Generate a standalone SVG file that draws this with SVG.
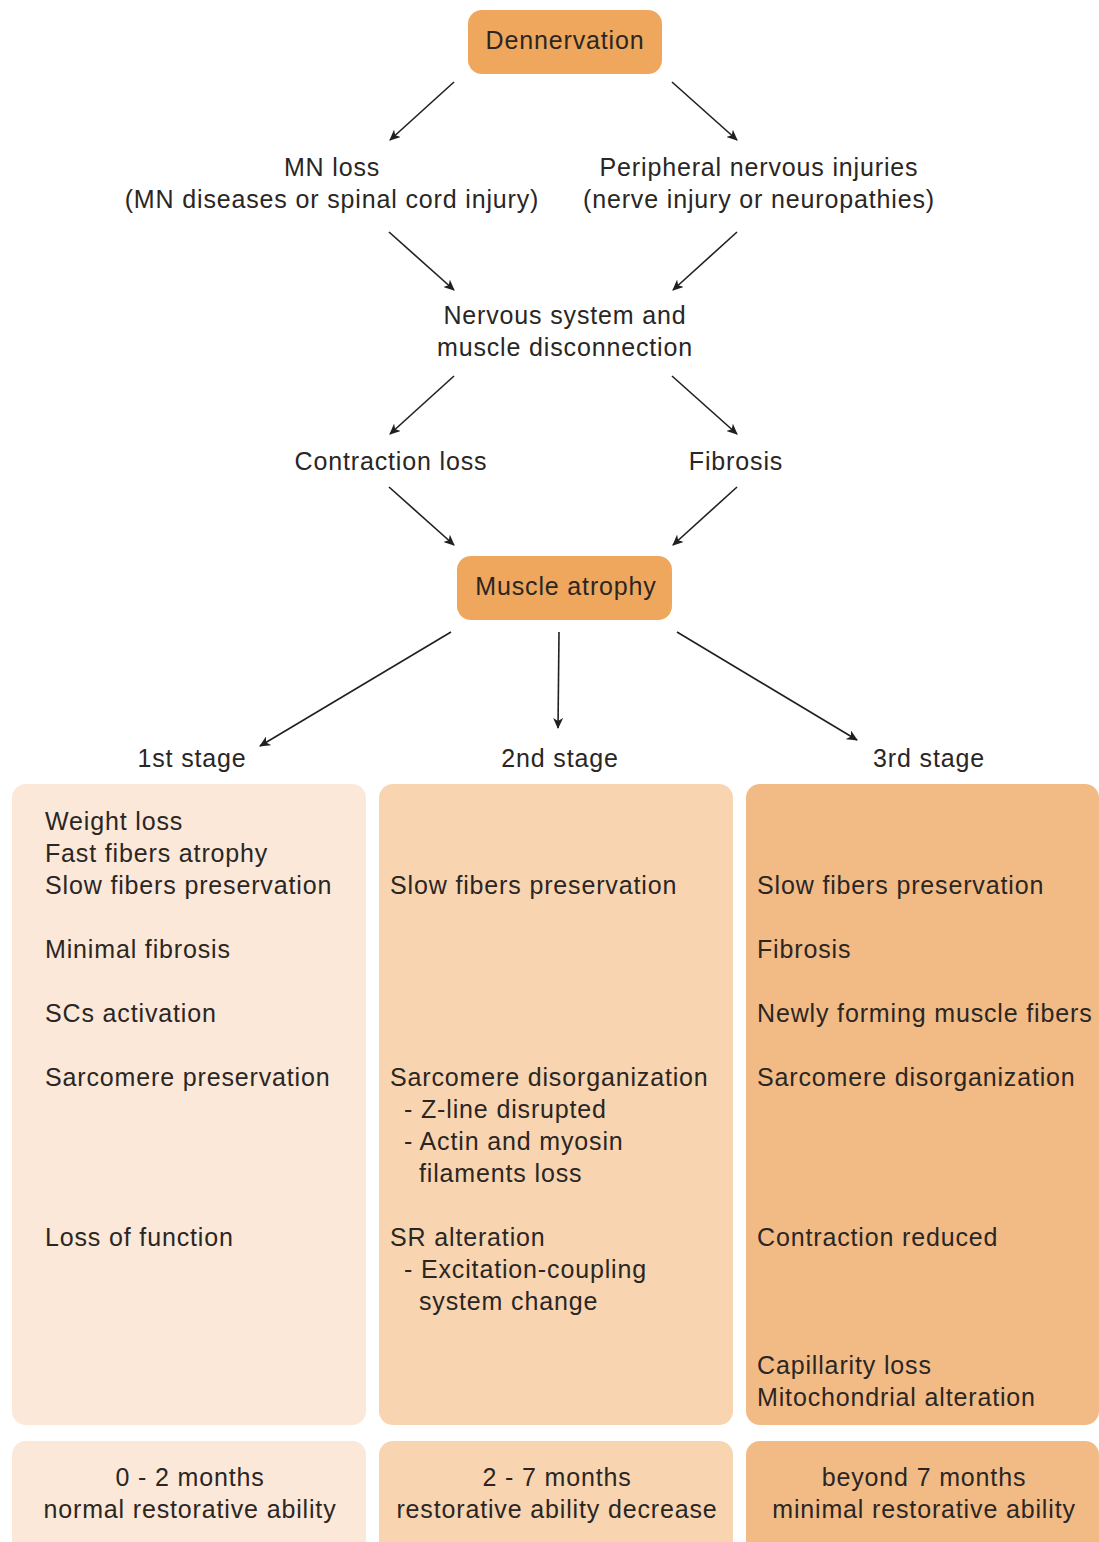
<svg xmlns="http://www.w3.org/2000/svg" width="1099" height="1542" viewBox="0 0 1099 1542">
<defs>
<marker id="ah" markerWidth="12" markerHeight="10" refX="10" refY="5" orient="auto" markerUnits="userSpaceOnUse">
<path d="M0,0 L11,5 L0,10 L3,5 Z" fill="#231f20"/>
</marker>
<style>
text{font-family:"Liberation Sans",Arial,sans-serif;font-size:25px;letter-spacing:0.85px;fill:#2a2624}
.c{text-anchor:middle}
.key{fill:#efa75d}
.s1{fill:#fce8d8}
.s2{fill:#f8d5b0}
.s3{fill:#f2bb86}
.conn line{stroke:#231f20;stroke-width:1.6;fill:none;marker-end:url(#ah)}
</style>
</defs>
<rect width="1099" height="1542" fill="#ffffff"/>
<g id="connectors" class="conn">
<line x1="454" y1="82" x2="390" y2="140"/>
<line x1="672" y1="82" x2="737" y2="140"/>
<line x1="389" y1="232" x2="454" y2="290"/>
<line x1="737" y1="232" x2="673" y2="290"/>
<line x1="454" y1="376" x2="390" y2="434"/>
<line x1="672" y1="376" x2="737" y2="434"/>
<line x1="389" y1="487" x2="454" y2="545"/>
<line x1="737" y1="487" x2="673" y2="545"/>
<line x1="451" y1="632" x2="260" y2="746"/>
<line x1="559" y1="632" x2="558" y2="728"/>
<line x1="677" y1="632" x2="857" y2="740"/>
</g>
<g id="dennervation">
<rect class="key" x="468" y="10" width="194" height="64" rx="14"/>
<text class="c" x="565" y="49">Dennervation</text>
</g>
<g id="mn-loss">
<text class="c" x="332" y="176">MN loss</text>
<text class="c" x="332" y="208">(MN diseases or spinal cord injury)</text>
</g>
<g id="peripheral">
<text class="c" x="759" y="176">Peripheral nervous injuries</text>
<text class="c" x="759" y="208">(nerve injury or neuropathies)</text>
</g>
<g id="disconnection">
<text class="c" x="565" y="324">Nervous system and</text>
<text class="c" x="565" y="356">muscle disconnection</text>
</g>
<g id="contraction-loss">
<text class="c" x="391" y="470">Contraction loss</text>
</g>
<g id="fibrosis">
<text class="c" x="736" y="470">Fibrosis</text>
</g>
<g id="muscle-atrophy">
<rect class="key" x="457" y="556" width="215" height="64" rx="14"/>
<text class="c" x="566" y="595">Muscle atrophy</text>
</g>
<g id="stage1-label"><text class="c" x="192" y="767">1st stage</text></g>
<g id="stage2-label"><text class="c" x="560" y="767">2nd stage</text></g>
<g id="stage3-label"><text class="c" x="929" y="767">3rd stage</text></g>
<g id="stage1">
<rect class="s1" x="12" y="784" width="354" height="641" rx="14"/>
<text x="45" y="830">Weight loss</text>
<text x="45" y="862">Fast fibers atrophy</text>
<text x="45" y="894">Slow fibers preservation</text>
<text x="45" y="958">Minimal fibrosis</text>
<text x="45" y="1022">SCs activation</text>
<text x="45" y="1086">Sarcomere preservation</text>
<text x="45" y="1246">Loss of function</text>
</g>
<g id="stage2">
<rect class="s2" x="379" y="784" width="354" height="641" rx="14"/>
<text x="390" y="894">Slow fibers preservation</text>
<text x="390" y="1086">Sarcomere disorganization</text>
<text x="404" y="1118">- Z-line disrupted</text>
<text x="404" y="1150">- Actin and myosin</text>
<text x="419" y="1182">filaments loss</text>
<text x="390" y="1246">SR alteration</text>
<text x="404" y="1278">- Excitation-coupling</text>
<text x="419" y="1310">system change</text>
</g>
<g id="stage3">
<rect class="s3" x="746" y="784" width="353" height="641" rx="14"/>
<text x="757" y="894">Slow fibers preservation</text>
<text x="757" y="958">Fibrosis</text>
<text x="757" y="1022">Newly forming muscle fibers</text>
<text x="757" y="1086">Sarcomere disorganization</text>
<text x="757" y="1246">Contraction reduced</text>
<text x="757" y="1374">Capillarity loss</text>
<text x="757" y="1406">Mitochondrial alteration</text>
</g>
<g id="time1">
<rect class="s1" x="12" y="1441" width="354" height="120" rx="14"/>
<text class="c" x="190" y="1486">0 - 2 months</text>
<text class="c" x="190" y="1518">normal restorative ability</text>
</g>
<g id="time2">
<rect class="s2" x="379" y="1441" width="354" height="120" rx="14"/>
<text class="c" x="557" y="1486">2 - 7 months</text>
<text class="c" x="557" y="1518">restorative ability decrease</text>
</g>
<g id="time3">
<rect class="s3" x="746" y="1441" width="353" height="120" rx="14"/>
<text class="c" x="924" y="1486">beyond 7 months</text>
<text class="c" x="924" y="1518">minimal restorative ability</text>
</g>
</svg>
